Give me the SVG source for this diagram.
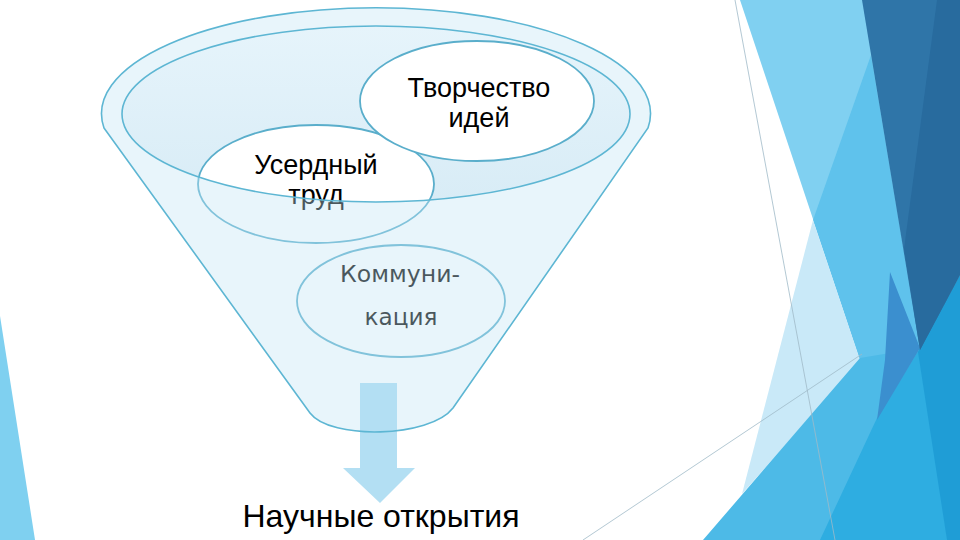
<svg xmlns="http://www.w3.org/2000/svg" width="960" height="540" viewBox="0 0 960 540">
  <defs>
    <style>
      .ln { fill: none; stroke: #5db6d3; stroke-width: 1.6; }
      .node { fill: #ffffff; stroke: #5aaecb; stroke-width: 1.8; }
      .lbl { font-family: "Liberation Sans", Arial, sans-serif; font-size: 27px; fill: #000; text-anchor: middle; }
      .lbl2 { font-family: "DejaVu Sans", Verdana, sans-serif; font-size: 23px; fill: #000; text-anchor: middle; }
      .thin { fill: none; stroke: #9fbac8; stroke-width: 0.8; }
    </style>
    <linearGradient id="lip" x1="0" y1="0" x2="0" y2="1">
      <stop offset="0" stop-color="#e6f4fb"/>
      <stop offset="1" stop-color="#d8ecf6"/>
    </linearGradient>
  </defs>

  <rect x="0" y="0" width="960" height="540" fill="#ffffff"/>

  <g id="background">
    <polygon points="0,316 0,540 35,540" fill="#7fd0f0"/>
    <polygon points="740,0 880,0 920,348 860,360" fill="#80d0f1"/>
    <polygon points="871,55 813,220 860,360 890,400 920,348" fill="#5fc2ec"/>
    <polygon points="813,220 860,360 742,494" fill="#c9e9f8"/>
    <polygon points="860,358 703,540 960,540 960,330 920,348" fill="#4dbae7"/>
    <polygon points="877,418 820,540 960,540 960,275 920,348" fill="#2eade1"/>
    <polygon points="918,352 947,540 960,540 960,275" fill="#1f9dd6"/>
    <polygon points="890,272 920,348 877,420 885,360" fill="#3b8fcf"/>
    <polygon points="862,0 960,0 960,275 920,350" fill="#2f75a8"/>
    <polygon points="937,0 960,0 960,275 920,350 904,249" fill="#286b9e"/>
    <line class="thin" x1="735" y1="0" x2="835" y2="540"/>
    <line class="thin" x1="583" y1="540" x2="862" y2="354"/>
  </g>

  <g id="funnel">
    <path d="M 104,128 L 310,413 C 330,440 430,438 453,408 L 648,128 A 274.5 106 0 1 0 104,128 Z" fill="#ffffff"/>
    <ellipse cx="376" cy="114" rx="254" ry="88" fill="url(#lip)"/>
  </g>

  <g id="node-userdny">
    <ellipse class="node" cx="316" cy="184" rx="118" ry="59"/>
    <text class="lbl" x="316" y="174">Усердный</text>
    <text class="lbl" x="316" y="204">труд</text>
  </g>

  <g id="node-tvorchestvo">
    <ellipse class="node" cx="477" cy="101" rx="117" ry="60"/>
    <text class="lbl" x="479" y="97">Творчество</text>
    <text class="lbl" x="479" y="127">идей</text>
  </g>

  <g id="node-kommunikaciya">
    <ellipse class="node" cx="401" cy="301" rx="104" ry="56"/>
    <text class="lbl2" x="400" y="282" textLength="120" lengthAdjust="spacingAndGlyphs">Коммуни-</text>
    <text class="lbl2" x="401" y="325" textLength="73" lengthAdjust="spacingAndGlyphs">кация</text>
  </g>

  <g id="funnel-front">
    <path d="M 104,128 L 310,413 C 330,440 430,438 453,408 L 648,128 A 274.5 106 0 1 0 104,128 Z M 122,114 A 254 88 0 1 0 630,114 A 254 88 0 1 0 122,114 Z" fill="#c3e5f5" fill-opacity="0.38" fill-rule="evenodd"/>
  </g>

  <g id="connectors">
    <polygon points="360,383 397,383 397,468 415,468 380,503 343,468 360,468" fill="#b3dff3"/>
  </g>

  <g id="funnel-outline">
    <path class="ln" d="M 104,128 L 310,413 C 330,440 430,438 453,408 L 648,128 A 274.5 106 0 1 0 104,128 Z"/>
    <ellipse class="ln" cx="376" cy="114" rx="254" ry="88"/>
  </g>

  <g id="node-result">
    <text x="381" y="527" font-family="Liberation Sans, Arial, sans-serif" font-size="32" fill="#000" text-anchor="middle">Научные открытия</text>
  </g>
</svg>
